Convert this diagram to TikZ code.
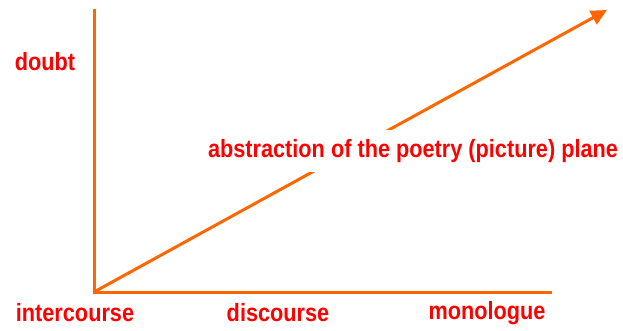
\documentclass[tikz,border=0pt]{standalone}
\usepackage{fontspec}
\setmainfont{Liberation Sans}
\usepackage{tikz}
\usetikzlibrary{arrows.meta,positioning}
\definecolor{axisorange}{RGB}{255,102,0}
\definecolor{labelred}{RGB}{255,0,0}

\begin{document}
\begin{tikzpicture}[
  x=1pt, y=1pt,
  every node/.style={font=\fontsize{21.7}{24}\selectfont\bfseries, text=labelred, yscale=1.15, transform shape},
  axis/.style={draw=axisorange, line width=3pt},
  arrow/.style={axis, -{Triangle[length=16pt, width=15pt]}},
  cut/.style={fill=white, minimum height=36pt, inner xsep=2pt}
]
\useasboundingbox (0,0) rectangle (623,330);
\coordinate (origin) at (94,38);
\coordinate (top) at (94,321);
\coordinate (right) at (552,38);
\coordinate (tip) at (607,320);
\draw[axis] (top) -- (origin) -- (right);
\draw[arrow] (origin) -- (tip);
\node[cut] (plane) at (413,179) {abstraction of the poetry (picture) plane};
\node (doubt) at (45,268) {doubt};
\node (intercourse) at (75,17) {intercourse};
\node (discourse) at (278,17) {discourse};
\node (monologue) at (487,17) {monologue};
\end{tikzpicture}
\end{document}
